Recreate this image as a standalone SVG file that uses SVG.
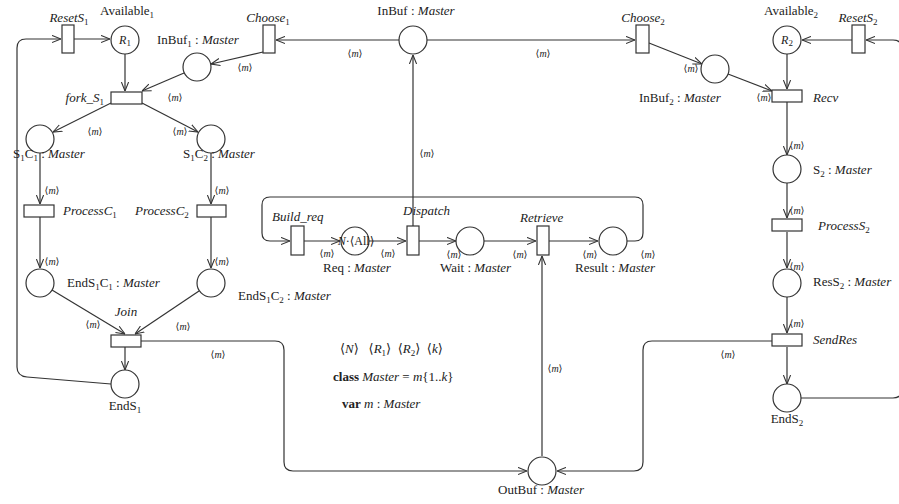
<svg xmlns="http://www.w3.org/2000/svg" width="899" height="504" viewBox="0 0 899 504">
<style>
.p{fill:#fff;stroke:#333;stroke-width:1.2}
.tr{fill:#fff;stroke:#333;stroke-width:1.2}
.c{fill:none;stroke:#333;stroke-width:1.2}
.a{marker-end:url(#ar)}
text{font-family:"Liberation Serif","DejaVu Serif",serif;font-size:13px;fill:#222}
.i{font-style:italic}
.s{font-size:9px;font-style:normal}
.m{font-size:10px;text-anchor:middle}
.mid{text-anchor:middle}
.end{text-anchor:end}
.b{font-weight:bold}
</style>
<defs>
<marker id="ar" viewBox="0 0 10 10" refX="10" refY="5" markerWidth="9" markerHeight="9" orient="auto" markerUnits="userSpaceOnUse">
<path d="M0,1 L10,5 L0,9" fill="none" stroke="#333" stroke-width="1.2"/>
</marker>
</defs>
<g id="connectors">
<path class="c a" d="M111,384 L27,377 Q17,376 17,367 L17,48 Q17,39 26,39 L61,39"/>
<path class="c a" d="M74,39 L110,39"/>
<path class="c a" d="M125,54 L125,91"/>
<path class="c a" d="M399,40 L276,40"/>
<path class="c a" d="M263,52 L211,64"/>
<path class="c a" d="M184,73 L142,91"/>
<path class="c a" d="M111,103 L53,132"/>
<path class="c a" d="M142,103 L198,132"/>
<path class="c a" d="M40,153 L40,204"/>
<path class="c a" d="M40,217 L40,268"/>
<path class="c a" d="M211,153 L211,204"/>
<path class="c a" d="M211,217 L211,268"/>
<path class="c a" d="M52,290 L125,334"/>
<path class="c a" d="M199,291 L135,334"/>
<path class="c a" d="M125,347 L125,370"/>
<path class="c a" d="M141,341 L275,341 Q284,341 284,350 L284,462 Q284,471 293,471 L527,471"/>
<path class="c a" d="M772,341 L652,341 Q643,341 643,350 L643,462 Q643,471 634,471 L557,471"/>
<path class="c a" d="M542,456 L542,256"/>
<path class="c a" d="M413,226 L413,55"/>
<path class="c a" d="M427,40 L635,40"/>
<path class="c a" d="M649,43 L702,64"/>
<path class="c a" d="M728,74 L772,91"/>
<path class="c a" d="M852,40 L802,40"/>
<path class="c a" d="M801,398 L893,398 Q902,398 902,389 L902,49 Q902,40 893,40 L866,40"/>
<path class="c a" d="M787,54 L787,89"/>
<path class="c a" d="M787,102 L787,155"/>
<path class="c a" d="M787,183 L787,218"/>
<path class="c a" d="M787,232 L787,268"/>
<path class="c a" d="M787,297 L787,333"/>
<path class="c a" d="M787,347 L787,384"/>
<path class="c a" d="M627,241 L635,241 Q643,241 643,233 L643,205 Q643,197 635,197 L270,197 Q262,197 262,205 L262,233 Q262,241 270,241 L290,241"/>
<path class="c a" d="M304,241 L340,241"/>
<path class="c a" d="M369,241 L406,241"/>
<path class="c a" d="M419,241 L456,241"/>
<path class="c a" d="M484,241 L536,241"/>
<path class="c a" d="M549,241 L598,241"/>
<text class="m" x="355" y="57">⟨<tspan class="i">m</tspan>⟩</text>
<text class="m" x="245" y="71">⟨<tspan class="i">m</tspan>⟩</text>
<text class="m" x="175" y="101">⟨<tspan class="i">m</tspan>⟩</text>
<text class="m" x="95" y="135">⟨<tspan class="i">m</tspan>⟩</text>
<text class="m" x="180" y="135">⟨<tspan class="i">m</tspan>⟩</text>
<text class="m" x="52" y="194">⟨<tspan class="i">m</tspan>⟩</text>
<text class="m" x="52" y="265">⟨<tspan class="i">m</tspan>⟩</text>
<text class="m" x="222" y="194">⟨<tspan class="i">m</tspan>⟩</text>
<text class="m" x="222" y="265">⟨<tspan class="i">m</tspan>⟩</text>
<text class="m" x="93" y="328">⟨<tspan class="i">m</tspan>⟩</text>
<text class="m" x="183" y="330">⟨<tspan class="i">m</tspan>⟩</text>
<text class="m" x="218" y="358">⟨<tspan class="i">m</tspan>⟩</text>
<text class="m" x="427" y="157">⟨<tspan class="i">m</tspan>⟩</text>
<text class="m" x="543" y="57">⟨<tspan class="i">m</tspan>⟩</text>
<text class="m" x="691" y="72">⟨<tspan class="i">m</tspan>⟩</text>
<text class="m" x="764" y="101">⟨<tspan class="i">m</tspan>⟩</text>
<text class="m" x="797" y="149">⟨<tspan class="i">m</tspan>⟩</text>
<text class="m" x="797" y="214">⟨<tspan class="i">m</tspan>⟩</text>
<text class="m" x="797" y="270">⟨<tspan class="i">m</tspan>⟩</text>
<text class="m" x="797" y="327">⟨<tspan class="i">m</tspan>⟩</text>
<text class="m" x="728" y="358">⟨<tspan class="i">m</tspan>⟩</text>
<text class="m" x="555" y="372">⟨<tspan class="i">m</tspan>⟩</text>
<text class="m" x="327" y="257">⟨<tspan class="i">m</tspan>⟩</text>
<text class="m" x="388" y="257">⟨<tspan class="i">m</tspan>⟩</text>
<text class="m" x="454" y="258">⟨<tspan class="i">m</tspan>⟩</text>
<text class="m" x="520" y="258">⟨<tspan class="i">m</tspan>⟩</text>
<text class="m" x="590" y="258">⟨<tspan class="i">m</tspan>⟩</text>
<text class="m" x="648" y="258">⟨<tspan class="i">m</tspan>⟩</text>
</g>
<g id="ResetS1"><rect class="tr" x="62" y="25" width="12" height="28"/><text class="i mid" x="69" y="22">ResetS<tspan class="s" dy="3">1</tspan></text></g>
<g id="Available1"><circle class="p" cx="125" cy="40" r="14"/><text class="mid" x="127" y="15">Available<tspan class="s" dy="3">1</tspan></text><text class="i mid" x="125" y="44" style="font-size:12px">R<tspan class="s" dy="2">1</tspan></text></g>
<g id="Choose1"><rect class="tr" x="263" y="25" width="12" height="28"/><text class="i mid" x="268" y="22">Choose<tspan class="s" dy="3">1</tspan></text></g>
<g id="InBuf1"><circle class="p" cx="197" cy="67" r="14"/><text x="157" y="44">InBuf<tspan class="s" dy="3">1</tspan><tspan dy="-3"> : </tspan><tspan class="i">Master</tspan></text></g>
<g id="fork_S1"><rect class="tr" x="111" y="92" width="31" height="12"/><text class="i end" x="104" y="102">fork_S<tspan class="s" dy="3">1</tspan></text></g>
<g id="S1C1"><circle class="p" cx="40" cy="139" r="14"/><text x="13" y="158">S<tspan class="s" dy="3">1</tspan><tspan dy="-3">C</tspan><tspan class="s" dy="3">1</tspan><tspan dy="-3"> : </tspan><tspan class="i">Master</tspan></text></g>
<g id="S1C2"><circle class="p" cx="211" cy="139" r="14"/><text x="183" y="158">S<tspan class="s" dy="3">1</tspan><tspan dy="-3">C</tspan><tspan class="s" dy="3">2</tspan><tspan dy="-3"> : </tspan><tspan class="i">Master</tspan></text></g>
<g id="ProcessC1"><rect class="tr" x="24" y="205" width="30" height="12"/><text class="i" x="63" y="215">ProcessC<tspan class="s" dy="3">1</tspan></text></g>
<g id="ProcessC2"><rect class="tr" x="197" y="205" width="29" height="12"/><text class="i" x="135" y="215">ProcessC<tspan class="s" dy="3">2</tspan></text></g>
<g id="EndS1C1"><circle class="p" cx="40" cy="283" r="14"/><text x="67" y="287">EndS<tspan class="s" dy="3">1</tspan><tspan dy="-3">C</tspan><tspan class="s" dy="3">1</tspan><tspan dy="-3"> : </tspan><tspan class="i">Master</tspan></text></g>
<g id="EndS1C2"><circle class="p" cx="211" cy="283" r="14"/><text x="238" y="300">EndS<tspan class="s" dy="3">1</tspan><tspan dy="-3">C</tspan><tspan class="s" dy="3">2</tspan><tspan dy="-3"> : </tspan><tspan class="i">Master</tspan></text></g>
<g id="Join"><rect class="tr" x="111" y="335" width="30" height="12"/><text class="i mid" x="126" y="316">Join</text></g>
<g id="EndS1"><circle class="p" cx="125" cy="384" r="14"/><text class="mid" x="125" y="410">EndS<tspan class="s" dy="3">1</tspan></text></g>
<g id="InBuf"><circle class="p" cx="413" cy="40" r="14"/><text class="mid" x="416" y="15">InBuf : <tspan class="i">Master</tspan></text></g>
<g id="Choose2"><rect class="tr" x="636" y="25" width="13" height="28"/><text class="i mid" x="643" y="22">Choose<tspan class="s" dy="3">2</tspan></text></g>
<g id="InBuf2"><circle class="p" cx="715" cy="69" r="14"/><text x="639" y="102">InBuf<tspan class="s" dy="3">2</tspan><tspan dy="-3"> : </tspan><tspan class="i">Master</tspan></text></g>
<g id="Available2"><circle class="p" cx="787" cy="40" r="14"/><text class="mid" x="791" y="15">Available<tspan class="s" dy="3">2</tspan></text><text class="i mid" x="787" y="44" style="font-size:12px">R<tspan class="s" dy="2">2</tspan></text></g>
<g id="ResetS2"><rect class="tr" x="852" y="25" width="13" height="28"/><text class="i mid" x="858" y="22">ResetS<tspan class="s" dy="3">2</tspan></text></g>
<g id="Recv"><rect class="tr" x="772" y="90" width="30" height="12"/><text class="i" x="813" y="102">Recv</text></g>
<g id="S2"><circle class="p" cx="787" cy="169" r="14"/><text x="813" y="174">S<tspan class="s" dy="3">2</tspan><tspan dy="-3"> : </tspan><tspan class="i">Master</tspan></text></g>
<g id="ProcessS2"><rect class="tr" x="772" y="219" width="30" height="12"/><text class="i" x="818" y="230">ProcessS<tspan class="s" dy="3">2</tspan></text></g>
<g id="ResS2"><circle class="p" cx="787" cy="283" r="14"/><text x="813" y="286">ResS<tspan class="s" dy="3">2</tspan><tspan dy="-3"> : </tspan><tspan class="i">Master</tspan></text></g>
<g id="SendRes"><rect class="tr" x="772" y="334" width="30" height="12"/><text class="i" x="813" y="344">SendRes</text></g>
<g id="EndS2"><circle class="p" cx="787" cy="398" r="14"/><text class="mid" x="787" y="423">EndS<tspan class="s" dy="3">2</tspan></text></g>
<g id="Build_req"><rect class="tr" x="291" y="226" width="13" height="29"/><text class="i" x="272" y="221">Build_req</text></g>
<g id="Req"><circle class="p" cx="355" cy="241" r="14"/><text class="mid" x="356" y="245" style="font-size:12px"><tspan class="i">N</tspan>·⟨All⟩</text><text x="323" y="272">Req : <tspan class="i">Master</tspan></text></g>
<g id="Dispatch"><rect class="tr" x="407" y="226" width="12" height="29"/><text class="i" x="403" y="215">Dispatch</text></g>
<g id="Wait"><circle class="p" cx="470" cy="241" r="14"/><text x="440" y="272">Wait : <tspan class="i">Master</tspan></text></g>
<g id="Retrieve"><rect class="tr" x="537" y="226" width="12" height="29"/><text class="i" x="520" y="222">Retrieve</text></g>
<g id="Result"><circle class="p" cx="613" cy="241" r="14"/><text x="575" y="272">Result : <tspan class="i">Master</tspan></text></g>
<g id="OutBuf"><circle class="p" cx="542" cy="471" r="14"/><text class="mid" x="541" y="494">OutBuf : <tspan class="i">Master</tspan></text></g>
<g id="declarations">
<text x="340" y="353">⟨<tspan class="i">N</tspan>⟩&#160;&#160;&#160;⟨<tspan class="i">R</tspan><tspan class="s" dy="3">1</tspan><tspan dy="-3">⟩&#160;&#160;⟨</tspan><tspan class="i">R</tspan><tspan class="s" dy="3">2</tspan><tspan dy="-3">⟩&#160;&#160;⟨</tspan><tspan class="i">k</tspan>⟩</text>
<text x="333" y="381"><tspan class="b">class</tspan> <tspan class="i">Master</tspan> = <tspan class="i">m</tspan>{1..<tspan class="i">k</tspan>}</text>
<text x="342" y="408"><tspan class="b">var</tspan> <tspan class="i">m</tspan> : <tspan class="i">Master</tspan></text>
</g>
</svg>
